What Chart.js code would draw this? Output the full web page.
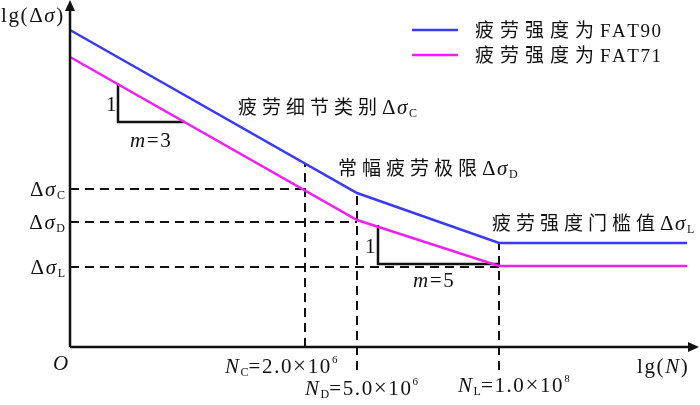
<!DOCTYPE html>
<html>
<head>
<meta charset="utf-8">
<script src="https://cdn.jsdelivr.net/npm/chart.js@4/dist/chart.umd.min.js"></script>
<style>
  html, body { margin: 0; padding: 0; background: #fff; }
  #wrap { width: 700px; height: 405px; }
</style>
</head>
<body>
<div id="wrap"><canvas id="chart"></canvas></div>
<script>
// S-N curve sketch. Units: x from the y-axis, y up from the x-axis.
const seriesLabels = ["疲劳强度为FAT90", "疲劳强度为FAT71"];
const seriesColors = ["#3a3af0", "#f020f0"];
const curveX = [0, 287, 429, 617];
const fat90Y = [317, 154, 104, 104];
const fat71Y = [290, 127, 81, 81];

const levelKeys = ["C", "D", "L"];
const levelY = [158, 125, 80];        // Δσ_C, Δσ_D, Δσ_L
const cycleX = [235, 287, 429];       // N_C, N_D, N_L
const cycleTop = [184, 154, 104];
const cycleBottom = [0, -23, -23];
const cycleMantissa = ["2.0", "5.0", "1.0"];
const cycleExp = ["6", "6", "8"];

const tri1X = [48, 48, 115];
const tri1Y = [263, 225, 225];
const tri2X = [308, 308, 429];
const tri2Y = [122, 83, 83];
const slopeM = ["3", "5"];

const SERIF = '"Liberation Serif", "Times New Roman", serif';
const CJK = '"Noto Sans CJK SC", sans-serif';
const STYLES = {
  rm: { font: `21px ${SERIF}`, gap: 1.6, dy: 0 },
  it: { font: `italic 21px ${SERIF}`, gap: 1.6, dy: 0 },
  times: { font: `23px ${SERIF}`, gap: 1.6, dy: 0 },
  sub: { font: `12px ${SERIF}`, gap: 0, dy: 3 },
  sup: { font: `11px ${SERIF}`, gap: 0, dy: -10 },
  cjk: { font: `19px ${CJK}`, gap: 5, dy: 0 },
  cjkLeg: { font: `19px ${CJK}`, gap: 6, dy: 0 },
  leg: { font: `19px ${SERIF}`, gap: 1.5, dy: 0 },
};

function pts(xs, ys) {
  return xs.map((v, i) => ({ x: v, y: ys[i] }));
}

function richWidth(ctx, runs) {
  let w = 0;
  for (const [text, kind] of runs) {
    const st = STYLES[kind];
    ctx.font = st.font;
    for (const ch of text) w += ctx.measureText(ch).width + st.gap;
  }
  return w;
}

function drawRich(ctx, x, y, runs, align) {
  let cx = align === "right" ? x - richWidth(ctx, runs) : x;
  for (const [text, kind] of runs) {
    const st = STYLES[kind];
    ctx.font = st.font;
    for (const ch of text) {
      ctx.fillText(ch, cx, y + st.dy);
      cx += ctx.measureText(ch).width + st.gap;
    }
  }
}

const dashed = (data) => ({
  data,
  borderColor: "#111",
  borderWidth: 2,
  borderDash: [9, 6],
  pointRadius: 0,
  order: 2,
});

const solid = (data, color, width, order) => ({
  data,
  borderColor: color,
  borderWidth: width,
  pointRadius: 0,
  order,
});

const datasets = [
  { label: seriesLabels[0], ...solid(pts(curveX, fat90Y), seriesColors[0], 2.5, 0) },
  { label: seriesLabels[1], ...solid(pts(curveX, fat71Y), seriesColors[1], 2.5, 0) },
  solid(pts(tri1X, tri1Y), "#111", 2.5, 1),
  solid(pts(tri2X, tri2Y), "#111", 2.5, 1),
];
levelY.forEach((v, i) => {
  datasets.push(dashed([{ x: 0, y: v }, { x: cycleX[i], y: v }]));
  datasets.push(dashed([{ x: cycleX[i], y: cycleBottom[i] }, { x: cycleX[i], y: cycleTop[i] }]));
});

const sketchPlugin = {
  id: "sketch",
  afterDatasetsDraw(chart) {
    const { ctx } = chart;
    const { x, y } = chart.scales;
    const x0 = x.getPixelForValue(0);
    const y0 = y.getPixelForValue(0);
    const top = y.getPixelForValue(347);
    const right = x.getPixelForValue(629);
    ctx.save();

    // axes with arrowheads
    ctx.strokeStyle = "#111";
    ctx.fillStyle = "#111";
    ctx.lineWidth = 2.5;
    ctx.beginPath();
    ctx.moveTo(x0, y0);
    ctx.lineTo(x0, top + 8);
    ctx.moveTo(x0, y0);
    ctx.lineTo(right - 8, y0);
    ctx.stroke();
    ctx.beginPath();
    ctx.moveTo(x0, top);
    ctx.lineTo(x0 - 5, top + 11);
    ctx.lineTo(x0 + 5, top + 11);
    ctx.closePath();
    ctx.fill();
    ctx.beginPath();
    ctx.moveTo(right, y0);
    ctx.lineTo(right - 11, y0 - 5);
    ctx.lineTo(right - 11, y0 + 5);
    ctx.closePath();
    ctx.fill();

    ctx.textBaseline = "alphabetic";
    ctx.textAlign = "left";

    // axis titles and origin
    drawRich(ctx, 1, 22, [["lg(Δ", "rm"], ["σ", "it"], [")", "rm"]]);
    drawRich(ctx, 637, y0 + 26, [["lg(", "rm"], ["N", "it"], [")", "rm"]]);
    drawRich(ctx, 53, y0 + 23, [["O", "it"]]);

    // stress levels on the y-axis
    levelKeys.forEach((k, i) => {
      drawRich(ctx, x0 - 5, y.getPixelForValue(levelY[i]) + 7,
        [["Δ", "rm"], ["σ", "it"], [k, "sub"]], "right");
    });

    // cycle counts under the x-axis
    const nOffsets = [[-80, 26], [-52, 48], [-41, 45]];
    levelKeys.forEach((k, i) => {
      drawRich(ctx, x.getPixelForValue(cycleX[i]) + nOffsets[i][0], y0 + nOffsets[i][1], [
        ["N", "it"], [k, "sub"], ["=" + cycleMantissa[i], "rm"], ["×", "times"], ["10", "rm"],
        [cycleExp[i], "sup"],
      ]);
    });

    // annotations
    drawRich(ctx, 238, 114, [["疲劳细节类别", "cjk"], ["Δ", "rm"], ["σ", "it"], ["C", "sub"]]);
    drawRich(ctx, 338, 175, [["常幅疲劳极限", "cjk"], ["Δ", "rm"], ["σ", "it"], ["D", "sub"]]);
    drawRich(ctx, 492, 230, [["疲劳强度门槛值", "cjk"], ["Δ", "rm"], ["σ", "it"], ["L", "sub"]]);

    // slope triangles
    const t1x = x.getPixelForValue(tri1X[0]);
    const t1y = (y.getPixelForValue(tri1Y[0]) + y.getPixelForValue(tri1Y[1])) / 2;
    drawRich(ctx, t1x - 12, t1y + 8, [["1", "rm"]]);
    drawRich(ctx, x.getPixelForValue(tri1X[0]) + 12, y.getPixelForValue(tri1Y[1]) + 25,
      [["m", "it"], ["=" + slopeM[0], "rm"]]);
    const t2x = x.getPixelForValue(tri2X[0]);
    const t2y = (y.getPixelForValue(tri2Y[0]) + y.getPixelForValue(tri2Y[1])) / 2;
    drawRich(ctx, t2x - 13, t2y + 8, [["1", "rm"]]);
    drawRich(ctx, x.getPixelForValue(tri2X[0]) + 35, y.getPixelForValue(tri2Y[1]) + 23,
      [["m", "it"], ["=" + slopeM[1], "rm"]]);

    // legend
    seriesLabels.forEach((label, i) => {
      const ly = 30 + i * 25;
      ctx.strokeStyle = seriesColors[i];
      ctx.lineWidth = 2.5;
      ctx.beginPath();
      ctx.moveTo(412, ly);
      ctx.lineTo(458, ly);
      ctx.stroke();
      ctx.fillStyle = "#111";
      drawRich(ctx, 475, ly + 7, [[label.slice(0, 5), "cjkLeg"], [label.slice(5), "leg"]]);
    });

    ctx.restore();
  },
};

new Chart(document.getElementById("chart"), {
  type: "line",
  data: { datasets },
  options: {
    responsive: true,
    maintainAspectRatio: false,
    animation: false,
    layout: { padding: 0 },
    scales: {
      x: { type: "linear", min: -70, max: 630, display: false },
      y: { type: "linear", min: -58, max: 347, display: false },
    },
    plugins: {
      legend: { display: false },
      tooltip: { enabled: false },
    },
    elements: { line: { tension: 0, fill: false } },
  },
  plugins: [sketchPlugin],
});
</script>
</body>
</html>
